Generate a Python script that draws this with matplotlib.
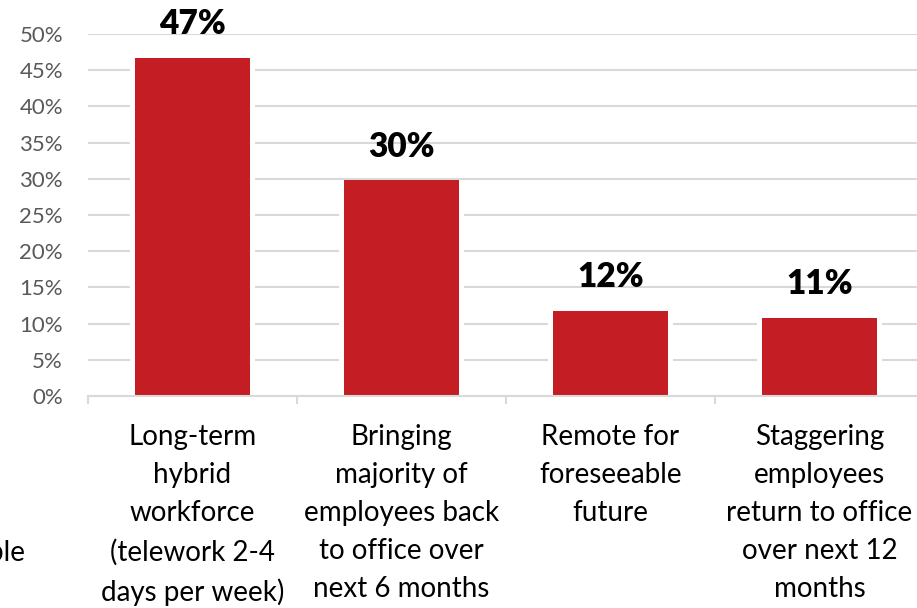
import matplotlib; matplotlib.use("Agg")
import matplotlib.pyplot as plt
from matplotlib.ticker import FuncFormatter, FixedLocator
import numpy as np

categories = [
    "Long-term\nhybrid\nworkforce\n(telework 2-4\ndays per week)",
    "Bringing\nmajority of\nemployees back\nto office over\nnext 6 months",
    "Remote for\nforeseeable\nfuture",
    "Staggering\nemployees\nreturn to office\nover next 12\nmonths",
]
shares = [46.7, 29.8, 11.8, 10.8]
yticks = [0, 5, 10, 15, 20, 25, 30, 35, 40, 45, 50]

RED = "#c41e24"
GRID = "#d9d9d9"
TICKTXT = "#595959"
plt.rcParams["font.family"] = ["Lato", "DejaVu Sans"]

W, H = 917, 608
fig = plt.figure(figsize=(W / 100, H / 100), dpi=100)
ax = fig.add_axes([88 / W, 212 / H, 836 / W, 362 / H])

x = np.arange(len(categories))
bw = 0.555
# white halo behind each bar so the gridlines stop short of it
ax.bar(x, shares, width=bw + 0.04, color="white", zorder=2)
ax.bar(x, shares, width=bw, color=RED, zorder=3)

for xi, v in zip(x, shares):
    ax.annotate(f"{v:.0f}%", (xi, v), xytext=(0, 17), textcoords="offset points",
                ha="center", va="baseline", fontsize=24, fontweight="heavy",
                color="black", zorder=4)

ax.set_xlim(-0.5, len(categories) - 0.5)
ax.set_ylim(0, 50)
ax.set_yticks(yticks)
ax.yaxis.set_major_formatter(FuncFormatter(lambda v, p: f"{v:.0f}%"))
ax.grid(axis="y", color=GRID, lw=1.5, zorder=1)
ax.set_axisbelow(True)

for s in ["top", "right", "left"]:
    ax.spines[s].set_visible(False)
ax.spines["bottom"].set_color(GRID)
ax.spines["bottom"].set_linewidth(1.5)
ax.spines["bottom"].set_zorder(5)

ax.tick_params(axis="y", length=0, pad=18, labelsize=16, labelcolor=TICKTXT)
ax.set_xticks(x)
ax.set_xticklabels(categories, fontsize=20, color="black", linespacing=1.58)
ax.tick_params(axis="x", which="major", length=0, pad=20)
ax.xaxis.set_minor_locator(FixedLocator(np.arange(-0.5, len(categories), 1.0)))
ax.tick_params(axis="x", which="minor", length=6, width=1.5, color=GRID, direction="out")

fig.text(25 / W, 1 - 553 / H, "ble", ha="right", va="center", fontsize=20, color="black")

fig.savefig("out.png", dpi=100)
